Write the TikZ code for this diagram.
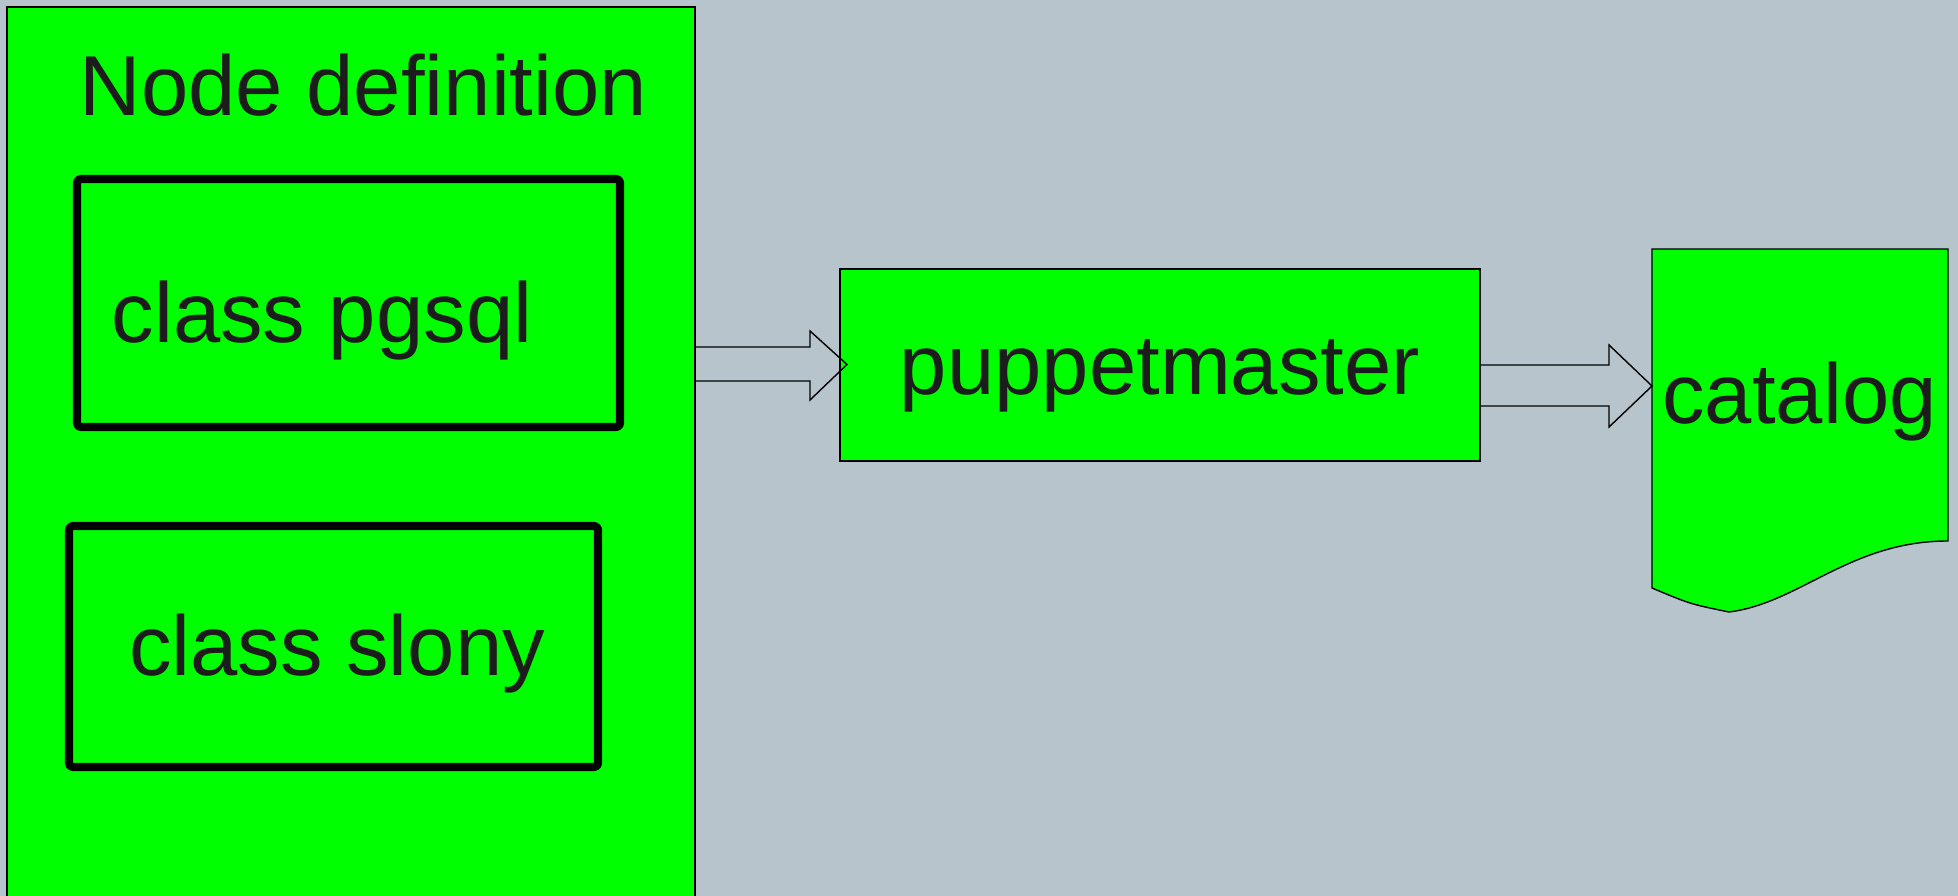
\documentclass[tikz,border=0pt]{standalone}
\usepackage{fontspec}
\setmainfont{Liberation Sans}
\usetikzlibrary{calc}
\definecolor{bg}{RGB}{183,196,204}
\definecolor{limegreen}{RGB}{0,255,0}
\definecolor{ink}{RGB}{28,28,28}
\tikzset{
  greenbox/.style={draw=black, line width=0.4pt, fill=limegreen, inner sep=0pt, outer sep=0pt},
  classbox/.style={draw=black, line width=2.3pt, line join=round, rounded corners=1pt, inner sep=0pt, outer sep=0pt},
  blockarrow/.style={draw=black, line width=0.4pt},
  bigtext/.style={text=ink, font=\fontsize{24.2pt}{29pt}\selectfont, inner sep=0pt}
}
\begin{document}
\begin{tikzpicture}[x=1cm,y=-1cm]
\useasboundingbox[fill=bg] (0,0) rectangle (19.58,8.96);
% node definition with its classes
\node[greenbox, anchor=north west, minimum width=6.88cm, minimum height=9.4cm] (def) at (0.07,0.07) {};
\node[bigtext, anchor=base] (title) at (3.635,1.16) {Node definition};
\node[classbox, anchor=north west, minimum width=5.43cm, minimum height=2.48cm] (pgsql) at (0.77,1.79) {};
\node[bigtext, anchor=base] (pgsqltext) at (3.22,3.43) {class pgsql};
\node[classbox, anchor=north west, minimum width=5.29cm, minimum height=2.41cm] (slony) at (0.69,5.26) {};
\node[bigtext, anchor=base] (slonytext) at (3.37,6.76) {class slony};
% puppetmaster
\node[greenbox, bigtext, minimum width=6.4cm, minimum height=1.92cm, text height=0.6cm, text depth=0pt] (master) at (11.60,3.65) {puppetmaster};
% catalog document
\draw[greenbox] (16.52,2.49) -- (19.48,2.49) -- (19.48,5.41)
  .. controls (18.50,5.41) and (18.00,6.03) .. (17.29,6.12)
  .. controls (16.90,6.04) .. (16.52,5.88) -- cycle;
\coordinate (cat) at (16.52,3.86);
\node[bigtext, anchor=base] (cattext) at (17.995,4.24) {catalog};
% arrows
\draw[blockarrow] (def.east |- 0,3.47) -- ++(1.15,0) -- ++(0,-0.16) -- (8.47,3.645) -- (8.10,4.00) -- ++(0,-0.19) -- (def.east |- 0,3.81);
\draw[blockarrow] (master.east |- 0,3.65) -- ++(1.29,0) -- ++(0,-0.20) -- (cat) -- (16.09,4.27) -- ++(0,-0.21) -- (master.east |- 0,4.06);
\end{tikzpicture}
\end{document}
